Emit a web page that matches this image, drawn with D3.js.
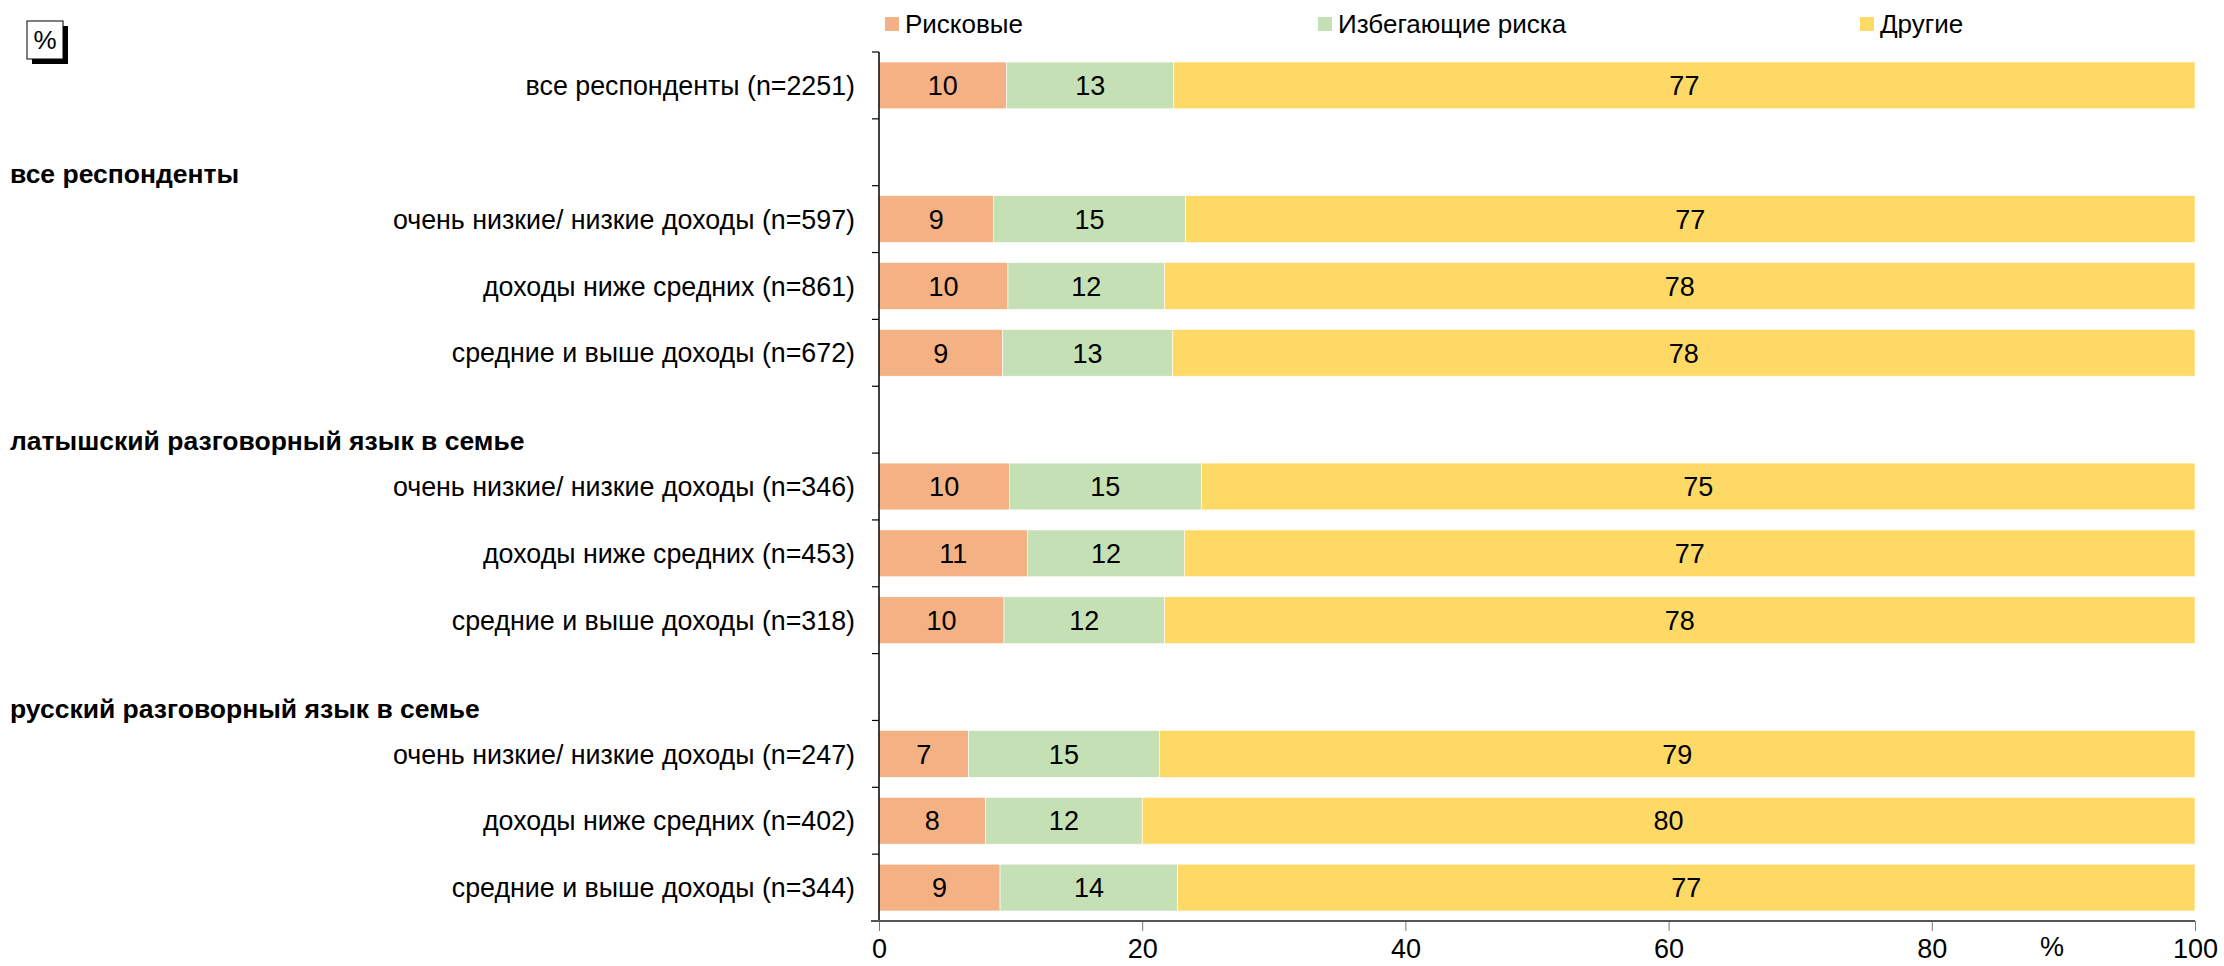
<!DOCTYPE html>
<html>
<head>
<meta charset="utf-8">
<script src="https://cdn.jsdelivr.net/npm/d3@7"></script>
<style>
  body { margin: 0; background: #fff; }
  text { font-family: "Liberation Sans", Arial, sans-serif; }
</style>
</head>
<body>
<div id="chart"></div>
<script>
// data
const rows = ["r0", "h1", "r1", "r2", "r3", "h2", "r4", "r5", "r6", "h3", "r7", "r8", "r9"];
const rowLabels = [
    "все респонденты (n=2251)", "",
    "очень низкие/ низкие доходы (n=597)", "доходы ниже средних (n=861)", "средние и выше доходы (n=672)", "",
    "очень низкие/ низкие доходы (n=346)", "доходы ниже средних (n=453)", "средние и выше доходы (n=318)", "",
    "очень низкие/ низкие доходы (n=247)", "доходы ниже средних (n=402)", "средние и выше доходы (n=344)"
];
const groupHeaders = ["все респонденты", "латышский разговорный язык в семье", "русский разговорный язык в семье"];
const groupRows = ["h1", "h2", "h3"];
const barRows = ["r0", "r1", "r2", "r3", "r4", "r5", "r6", "r7", "r8", "r9"];

const seriesNames = ["Рисковые", "Избегающие риска", "Другие"];
const riskyValues =   [9.7, 8.7, 9.8, 9.4, 9.9, 11.3, 9.5, 6.8, 8.1, 9.2];
const avoidValues =   [12.7, 14.6, 11.9, 12.9, 14.6, 11.9, 12.2, 14.5, 11.9, 13.5];
const otherValues =   [77.6, 76.7, 78.3, 77.7, 75.5, 76.8, 78.3, 78.7, 80.0, 77.3];
const riskyLabels =   [10, 9, 10, 9, 10, 11, 10, 7, 8, 9];
const avoidLabels =   [13, 15, 12, 13, 15, 12, 12, 15, 12, 14];
const otherLabels =   [77, 77, 78, 78, 75, 77, 78, 79, 80, 77];
const xTicks = [0, 20, 40, 60, 80, 100];

const colors = ["#F4B183", "#C5E0B4", "#FFD966"];

const W = 2224, H = 966;
const svg = d3.select("#chart").append("svg").attr("width", W).attr("height", H);

const x = d3.scaleLinear().domain([0, 100]).range([879, 2195]);
const y = d3.scaleBand().domain(rows).range([52, 921]).paddingInner(0.3).paddingOuter(0.15);

// stacked segments
const segs = [];
barRows.forEach((r, i) => {
    const vals = [riskyValues[i], avoidValues[i], otherValues[i]];
    const labs = [riskyLabels[i], avoidLabels[i], otherLabels[i]];
    let acc = 0;
    vals.forEach((v, k) => {
        let x1 = acc + v;
        if (k === 2) x1 = 100;
        segs.push({row: r, k: k, x0: acc, x1: x1, label: labs[k]});
        acc += v;
    });
});

svg.append("g").selectAll("rect").data(segs).join("rect")
    .attr("x", d => x(d.x0))
    .attr("y", d => y(d.row))
    .attr("width", d => x(d.x1) - x(d.x0))
    .attr("height", y.bandwidth())
    .attr("fill", d => colors[d.k])
    .attr("stroke", "#fff")
    .attr("stroke-width", 0.6);

svg.append("g").selectAll("text").data(segs).join("text")
    .attr("x", d => (x(d.x0) + x(d.x1)) / 2)
    .attr("y", d => y(d.row) + y.bandwidth() / 2)
    .attr("dy", "0.36em")
    .attr("text-anchor", "middle")
    .attr("font-size", 27)
    .attr("fill", "#000")
    .text(d => d.label);

// row labels
svg.append("g").selectAll("text").data(rows.filter((r, i) => rowLabels[i] !== "")).join("text")
    .attr("x", 855)
    .attr("y", r => y(r) + y.bandwidth() / 2)
    .attr("dy", "0.36em")
    .attr("text-anchor", "end")
    .attr("font-size", 26.8)
    .text(r => rowLabels[rows.indexOf(r)]);

// group headers
svg.append("g").selectAll("text").data(groupRows).join("text")
    .attr("x", 10)
    .attr("y", r => y(r) + y.bandwidth() / 2 + 21)
    .attr("dy", "0.36em")
    .attr("font-size", 26.5)
    .attr("font-weight", "bold")
    .text((r, i) => groupHeaders[i]);

// left axis line with ticks at slot boundaries
const step = y.step();
const gap = step - y.bandwidth();
const bounds = rows.map(r => y(r) - gap / 2).concat([y(rows[rows.length - 1]) + y.bandwidth() + gap / 2]);
const yAxis = svg.append("g");
yAxis.append("line")
    .attr("x1", x(0)).attr("x2", x(0))
    .attr("y1", bounds[0]).attr("y2", bounds[bounds.length - 1])
    .attr("stroke", "#000").attr("stroke-width", 1.5);
yAxis.selectAll(".tk").data(bounds.slice(0, -1)).join("line")
    .attr("class", "tk")
    .attr("x1", x(0) - 7).attr("x2", x(0))
    .attr("y1", d => d).attr("y2", d => d)
    .attr("stroke", "#000").attr("stroke-width", 1.2);

// bottom axis
const axisY = bounds[bounds.length - 1];
const xAxis = svg.append("g").attr("transform", `translate(0,${axisY})`)
    .call(d3.axisBottom(x).tickValues(xTicks).tickSize(10).tickSizeOuter(0).tickFormat(d3.format("d")));
xAxis.select(".domain").remove();
xAxis.selectAll(".tick line").attr("stroke", "#777").attr("stroke-width", 1);
xAxis.selectAll(".tick text").attr("font-size", 27).attr("fill", "#000").attr("dy", "0.9em")
    .style("font-family", "'Liberation Sans', Arial, sans-serif");
svg.append("line")
    .attr("x1", x(0) - 8).attr("x2", x(100))
    .attr("y1", axisY).attr("y2", axisY)
    .attr("stroke", "#555").attr("stroke-width", 2);

svg.append("text")
    .attr("x", 2052).attr("y", 946)
    .attr("dy", "0.36em")
    .attr("text-anchor", "middle")
    .attr("font-size", 27)
    .text("%");

// legend
const legendX = [885, 1318, 1860];
const legend = svg.append("g").selectAll("g").data(seriesNames).join("g")
    .attr("transform", (d, i) => `translate(${legendX[i]},24)`);
legend.append("rect")
    .attr("x", 0).attr("y", -7).attr("width", 14).attr("height", 14)
    .attr("fill", (d, i) => colors[i]);
legend.append("text")
    .attr("x", 20).attr("y", 0).attr("dy", "0.36em")
    .attr("font-size", 26)
    .text(d => d);

// % box with shadow
const box = svg.append("g").attr("transform", "translate(27,21)");
box.append("rect").attr("x", 5).attr("y", 5).attr("width", 36).attr("height", 38).attr("fill", "#000");
box.append("rect").attr("x", 0).attr("y", 0).attr("width", 36).attr("height", 38)
    .attr("fill", "#fff").attr("stroke", "#000").attr("stroke-width", 1);
box.append("text").attr("x", 18).attr("y", 19).attr("dy", "0.36em")
    .attr("text-anchor", "middle").attr("font-size", 26).text("%");
</script>
</body>
</html>
